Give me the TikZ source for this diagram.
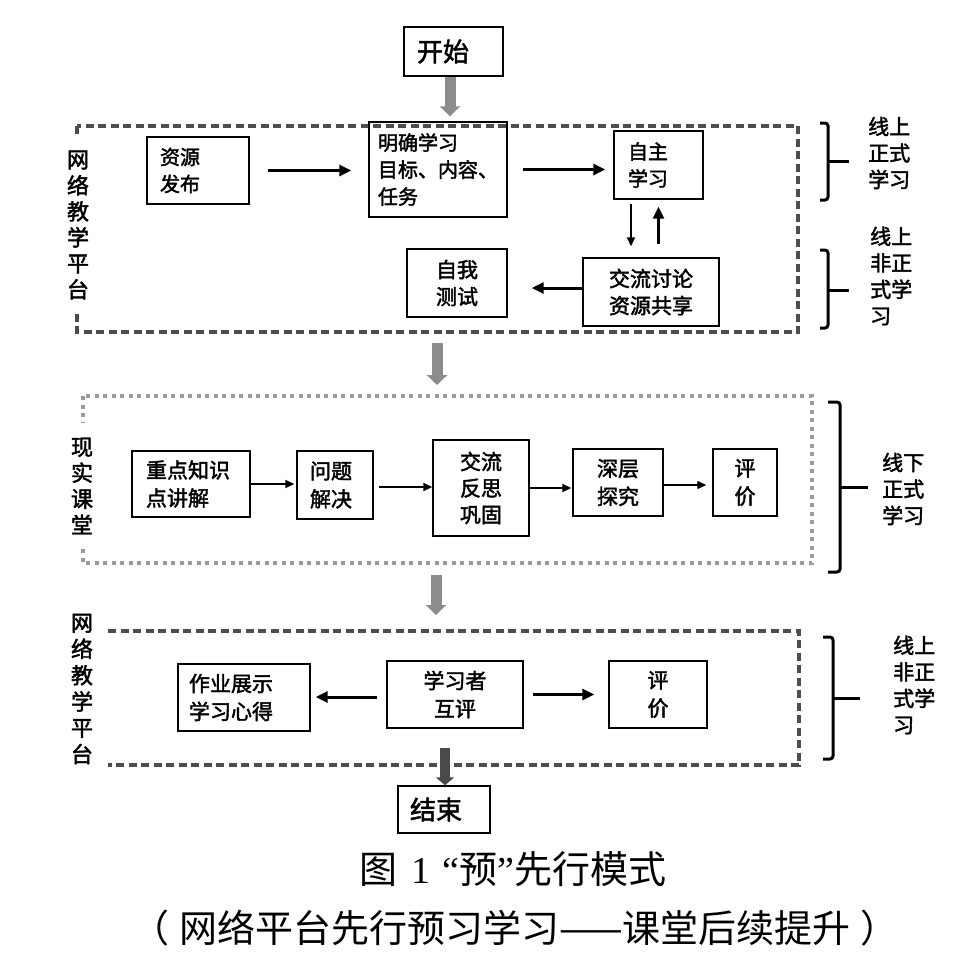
\documentclass[tikz,border=0pt]{standalone}
\usepackage{fontspec}
\setmainfont[FakeBold=2]{Noto Sans CJK SC}
\newfontfamily\capcjk{Noto Sans CJK SC}
\newfontfamily\capser{Liberation Serif}
\usetikzlibrary{arrows.meta}
\definecolor{frameC}{HTML}{4D4D4D}
\definecolor{dotC}{HTML}{9A9A9A}
\definecolor{garrowC}{HTML}{8C8C8C}
\definecolor{darrowC}{HTML}{4A4A4A}
\newcommand\bxfont{\fontsize{20}{27}\selectfont}
\newcommand\bigfont{\fontsize{26}{30}\selectfont}
\newcommand\sidefont{\fontsize{22}{26}\selectfont}
\newcommand\rfont{\fontsize{21}{26.5}\selectfont}
\newcommand\capfont{\capcjk\fontsize{38}{42}\selectfont}
\tikzset{
  bx/.style n args={3}{draw, line width=1.4pt, text width=#1, inner xsep=#2, inner ysep=0pt, minimum height=#3, font=\bxfont},
  frametop/.style={draw=frameC, line width=3.5pt, dash pattern=on 8pt off 4.5pt},
  framedot/.style={draw=dotC, line width=4pt, dash pattern=on 4pt off 4.5pt},
  sidelab/.style={fill=white, font=\sidefont, align=center, text width=24pt, inner xsep=1pt, inner ysep=13pt},
  rlab/.style={font=\rfont, align=left, text width=44pt, inner sep=0pt, anchor=west},
  brk/.style={draw=black, line width=3pt, rounded corners=3pt},
  garrow/.style={draw=garrowC, line width=11pt, -{Triangle[length=10pt,width=20pt]}},
  darrow/.style={draw=darrowC, line width=10pt, -{Triangle[length=8pt,width=18pt]}},
  barrow/.style={draw=black, line width=3pt, -{Triangle[length=12pt,width=11pt]}},
  tarrow/.style={draw=black, line width=1.8pt, -{Triangle[length=9pt,width=8pt]}},
}
\begin{document}
\begin{tikzpicture}[x=1pt,y=-1pt]
\useasboundingbox (0,0) rectangle (961,962);

% frames
\draw[frametop] (77,126) rectangle (798,332);
\draw[framedot] (83,396) rectangle (812,563);
\draw[frametop] (108,631) -- (799,631) -- (799,765) -- (108,765);

% side labels (left)
\node[sidelab] (lnet1) at (78,225) {网\\络\\教\\学\\平\\台};
\node[sidelab, inner ysep=15pt] (lreal) at (82,486) {现\\实\\课\\堂};
\node[sidelab, fill=none, font=\fontsize{22}{26.3}\selectfont] (lnet2) at (82,689) {网\\络\\教\\学\\平\\台};

% start / end
\node[bx={73pt}{13pt}{49pt}, font=\bigfont, align=left] (start) at (453.5,51.5) {开始};
\node[bx={68pt}{12pt}{47pt}, font=\bigfont, align=left] (end) at (444,809.5) {结束};

% top section
\node[bx={76pt}{13pt}{67pt}, align=left] (res) at (198,170.5) {资源\\发布};
\node[bx={120pt}{9pt}{95pt}, align=left] (goal) at (438,169.5) {明确学习\\目标、内容、\\任务};
\node[bx={61pt}{14pt}{68pt}, align=left] (self) at (658.5,165) {自主\\学习};
\node[bx={130pt}{3pt}{68pt}, align=center, font=\fontsize{21}{27}\selectfont] (disc) at (651,292) {交流讨论\\资源共享};
\node[bx={94pt}{3pt}{68pt}, align=center, font=\fontsize{21}{27}\selectfont] (test) at (457,283) {自我\\测试};

% middle section
\node[bx={90pt}{14pt}{66pt}, align=left, font=\fontsize{21}{28}\selectfont] (key) at (191,484) {重点知识\\点讲解};
\node[bx={50pt}{13pt}{68pt}, align=left, font=\fontsize{21}{28}\selectfont] (prob) at (335,485) {问题\\解决};
\node[bx={90pt}{3pt}{96pt}, align=center, font=\fontsize{21}{26.5}\selectfont] (refl) at (481,488) {交流\\反思\\巩固};
\node[bx={84pt}{3pt}{67pt}, align=center, font=\fontsize{21}{28}\selectfont] (deep) at (618,482.5) {深层\\探究};
\node[bx={58pt}{3pt}{67pt}, align=center, font=\fontsize{21}{28}\selectfont] (eval1) at (745,482.5) {评\\价};

% bottom section
\node[bx={110pt}{11pt}{67pt}, align=left, font=\fontsize{21}{28}\selectfont] (hw) at (244,697.5) {作业展示\\学习心得};
\node[bx={130pt}{3pt}{67pt}, align=center, font=\fontsize{21}{28}\selectfont] (peer) at (455,694.5) {学习者\\互评};
\node[bx={92pt}{3pt}{67pt}, align=center, font=\fontsize{21}{28}\selectfont] (eval2) at (658,694.5) {评\\价};

% right labels
\node[rlab] (r1) at (868,153) {线上\\正式\\学习};
\node[rlab] (r2) at (870,276) {线上\\非正\\式学\\习};
\node[rlab] (r3) at (882,489) {线下\\正式\\学习};
\node[rlab] (r4) at (893,685) {线上\\非正\\式学\\习};

% brackets
\draw[brk] (820,123) -- (828,123) -- (828,200) -- (820,200);
\draw[brk] (828,161) -- (849,161);
\draw[brk] (820,250) -- (828,250) -- (828,328) -- (820,328);
\draw[brk] (828,290) -- (849,290);
\draw[brk] (828,402) -- (840,402) -- (840,572) -- (828,572);
\draw[brk] (840,487) -- (868,487);
\draw[brk] (823,637) -- (833,637) -- (833,759) -- (823,759);
\draw[brk] (833,698) -- (860,698);

% gray flow arrows
\coordinate (g2a) at (437,343);
\coordinate (g2b) at (437,385);
\coordinate (g3a) at (436,575);
\coordinate (g3b) at (436,615);
\draw[garrow, shorten >=5pt] ([xshift=-3.5pt]start.south) -- ([xshift=-3.5pt]start.south |- goal.north);
\draw[garrow] (g2a) -- (g2b);
\draw[garrow] (g3a) -- (g3b);
\draw[darrow, shorten <=19pt] ([xshift=-10pt]peer.south) -- ([xshift=-10pt]peer.south |- end.north);

% top arrows
\draw[barrow, shorten <=18pt, shorten >=17pt] (res.east) -- (res.east -| goal.west);
\draw[barrow, shorten <=15pt, shorten >=8pt] (goal.east) -- (goal.east -| self.west);
\draw[tarrow, shorten <=4pt, shorten >=11pt] ([xshift=-27.5pt]self.south) -- ([xshift=-27.5pt]self.south |- disc.north);
\draw[barrow, line width=2.5pt, shorten <=13pt, shorten >=7pt] (disc.north -| self.south) -- (self.south);
\draw[barrow, shorten >=24pt] ([yshift=4pt]disc.west) -- ([yshift=4pt]disc.west -| test.east);

% middle arrows
\draw[tarrow, shorten >=2pt] (key.east) -- (key.east -| prob.west);
\draw[tarrow, shorten <=5pt] ([yshift=-2pt]prob.east) -- ([yshift=-2pt]prob.east -| refl.west);
\draw[tarrow, shorten >=1pt] (refl.east) -- (refl.east -| deep.west);
\draw[tarrow, line width=1.3pt, shorten >=6pt] ([yshift=-2.5pt]deep.east) -- ([yshift=-2.5pt]deep.east -| eval1.west);

% bottom arrows
\draw[barrow, shorten <=9pt, shorten >=5pt] ([yshift=-2.5pt]peer.west) -- ([yshift=-2.5pt]peer.west -| hw.east);
\draw[barrow, shorten <=9pt, shorten >=14pt] (peer.east) -- (peer.east -| eval2.west);

% captions
\node[font=\capfont, inner sep=0pt] (cap1) at (513,869) {图\kern14pt{\capser 1\kern12pt“}预{\capser ”}先行模式};
\node[font=\capfont, inner sep=0pt] (cap2) at (515,928) {（\kern10pt网络平台先行预习学习——课堂后续提升\kern10pt）};
\end{tikzpicture}
\end{document}
